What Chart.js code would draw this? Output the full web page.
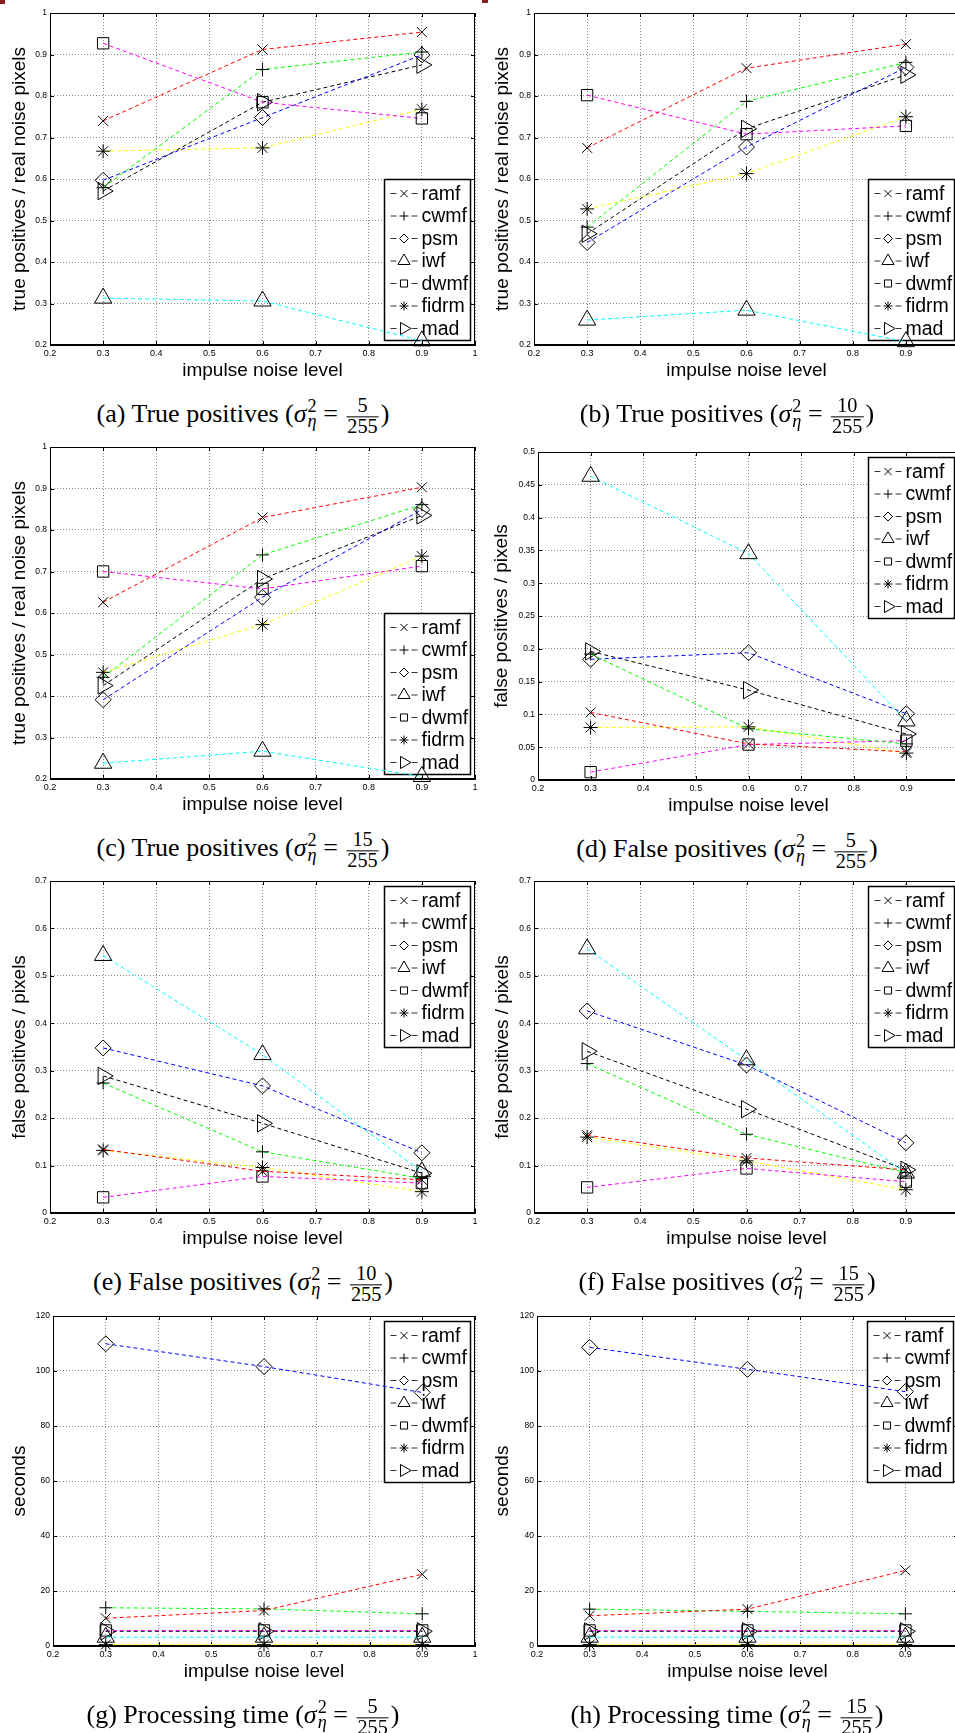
<!DOCTYPE html>
<html>
<head>
<meta charset="utf-8">
<script src="https://cdn.jsdelivr.net/npm/chart.js@4.4.1/dist/chart.umd.min.js"></script>
<style>
    html, body { margin: 0; padding: 0; background: #fff; }
    body { width: 955px; height: 1733px; position: relative; overflow: hidden; }
    canvas { position: absolute; }
    .cap { position: absolute; transform: translate(-50%, -50%); font: 26px "Liberation Serif", "Times New Roman", serif; white-space: nowrap; color: #000; }
    .ss { display: inline-block; vertical-align: -5px; font-size: 0.7em; line-height: 0.78; margin-left: 1px; }
    .ss span { display: block; }
    .frac { display: inline-block; vertical-align: middle; text-align: center; font-size: 0.78em; line-height: 0.92; margin: 0 2px; }
    .frac span { display: block; padding: 0 1px; }
    .frac span:first-child { border-bottom: 1px solid #000; padding-bottom: 1px; }
    .mark { position: absolute; background: #8b1c1c; }
</style>
</head>
<body>
<div class="mark" style="left:0;top:0;width:5px;height:4px"></div>
<div class="mark" style="left:482px;top:0;width:6px;height:3px"></div>
<script>
// x values and series names
const noiseLevels = [0.3, 0.6, 0.9];
const methods = ['ramf', 'cwmf', 'psm', 'iwf', 'dwmf', 'fidrm', 'mad'];

// tick labels
const xTicks = [0.2, 0.3, 0.4, 0.5, 0.6, 0.7, 0.8, 0.9, 1];
const tpTicks = [0.2, 0.3, 0.4, 0.5, 0.6, 0.7, 0.8, 0.9, 1];
const fpTicksLow = [0, 0.05, 0.1, 0.15, 0.2, 0.25, 0.3, 0.35, 0.4, 0.45, 0.5];
const fpTicks = [0, 0.1, 0.2, 0.3, 0.4, 0.5, 0.6, 0.7];
const timeTicks = [0, 20, 40, 60, 80, 100, 120];

// values, one row per method (ramf, cwmf, psm, iwf, dwmf, fidrm, mad)
const tp5 = [
    [0.740, 0.912, 0.954],
    [0.579, 0.864, 0.906],
    [0.597, 0.748, 0.899],
    [0.313, 0.306, 0.210],
    [0.927, 0.785, 0.746],
    [0.667, 0.675, 0.768],
    [0.571, 0.785, 0.875]
];
const tp10 = [
    [0.675, 0.867, 0.925],
    [0.484, 0.787, 0.881],
    [0.447, 0.677, 0.869],
    [0.260, 0.284, 0.208],
    [0.802, 0.708, 0.728],
    [0.528, 0.613, 0.750],
    [0.468, 0.721, 0.851]
];
const tp15 = [
    [0.626, 0.830, 0.903],
    [0.445, 0.740, 0.861],
    [0.391, 0.638, 0.849],
    [0.238, 0.267, 0.206],
    [0.700, 0.658, 0.713],
    [0.457, 0.572, 0.737],
    [0.425, 0.682, 0.835]
];
const fp5 = [
    [0.103, 0.055, 0.043],
    [0.192, 0.078, 0.055],
    [0.184, 0.194, 0.101],
    [0.463, 0.345, 0.090],
    [0.012, 0.054, 0.060],
    [0.080, 0.081, 0.041],
    [0.196, 0.137, 0.070]
];
const fp10 = [
    [0.134, 0.088, 0.070],
    [0.274, 0.129, 0.073],
    [0.348, 0.268, 0.127],
    [0.543, 0.334, 0.087],
    [0.033, 0.077, 0.063],
    [0.132, 0.096, 0.045],
    [0.289, 0.189, 0.084]
];
const fp15 = [
    [0.164, 0.116, 0.091],
    [0.315, 0.166, 0.085],
    [0.426, 0.312, 0.148],
    [0.557, 0.323, 0.084],
    [0.054, 0.094, 0.066],
    [0.160, 0.110, 0.049],
    [0.341, 0.219, 0.091]
];
const time5 = [
    [10.1, 12.9, 26.1],
    [13.9, 13.5, 11.7],
    [109.9, 101.6, 92.2],
    [3.2, 3.2, 3.2],
    [5.65, 5.65, 5.65],
    [0.5, 0.5, 0.5],
    [5.35, 5.35, 5.35]
];
const time15 = [
    [11.0, 13.4, 27.5],
    [13.4, 12.6, 11.7],
    [108.6, 100.6, 92.5],
    [3.2, 3.2, 3.2],
    [5.65, 5.65, 5.65],
    [0.5, 0.5, 0.5],
    [5.35, 5.35, 5.35]
];

// styles
const lineColors = ['#ff0000', '#00ff00', '#0000ff', '#00ffff', '#ff00ff', '#ffff00', '#000000'];
const markers = ['crossRot', 'cross', 'rectRot', 'triangle', 'rect', 'star', 'triangle'];
const markerRotation = [0, 0, 0, 0, 0, 0, 90];
const markerRadius = [7, 6.5, 8, 10, 8, 7, 10];
const legendRadius = [5, 4.5, 4.5, 7, 5, 4.5, 7];

const SANS = '"Liberation Sans", Arial, Helvetica, sans-serif';
const yTp = 'true positives / real noise pixels';
const yFp = 'false positives / pixels';
const yTime = 'seconds';

// box = plot area [left, top, right, bottom], off = y title centre distance from axis
const panels = [
    { data: tp5, ticks: tpTicks, ylabel: yTp, legend: 'se', box: [50, 10, 476, 345], off: 30, capX: 243, cap: '(a) True positives', num: '5' },
    { data: tp10, ticks: tpTicks, ylabel: yTp, legend: 'se', box: [534, 10, 960, 345], off: 31, capX: 727, cap: '(b) True positives', num: '10' },
    { data: tp15, ticks: tpTicks, ylabel: yTp, legend: 'se', box: [50, 444, 476, 779], off: 30, capX: 243, cap: '(c) True positives', num: '15' },
    { data: fp5, ticks: fpTicksLow, ylabel: yFp, legend: 'ne', box: [538, 449, 960, 780], off: 36, capX: 727, cap: '(d) False positives', num: '5' },
    { data: fp10, ticks: fpTicks, ylabel: yFp, legend: 'ne', box: [50, 878, 476, 1213], off: 30, capX: 243, cap: '(e) False positives', num: '10' },
    { data: fp15, ticks: fpTicks, ylabel: yFp, legend: 'ne', box: [534, 878, 960, 1213], off: 31, capX: 727, cap: '(f) False positives', num: '15' },
    { data: time5, ticks: timeTicks, ylabel: yTime, legend: 'ne', box: [53, 1313, 476, 1646], off: 33, capX: 243, cap: '(g) Processing time', num: '5' },
    { data: time15, ticks: timeTicks, ylabel: yTime, legend: 'ne', box: [537, 1313, 959, 1646], off: 34, capX: 727, cap: '(h) Processing time', num: '15' }
];

const fmt = v => String(+(+v).toFixed(2));

// axes box, inward ticks and the legend (drawn under the data, like the original)
const framePlugin = {
    id: 'frame',
    beforeDatasetsDraw(chart, args, opts) {
        const { ctx, chartArea: a, scales } = chart;
        ctx.save();
        ctx.strokeStyle = '#000';
        ctx.lineWidth = 1;
        ctx.strokeRect(Math.round(a.left) + 0.5, Math.round(a.top) + 0.5, Math.round(a.right - a.left) - 1, Math.round(a.bottom - a.top) - 1);
        ctx.beginPath();
        xTicks.forEach(v => {
            const x = Math.round(scales.x.getPixelForValue(v)) + 0.5;
            ctx.moveTo(x, a.bottom); ctx.lineTo(x, a.bottom - 4);
            ctx.moveTo(x, a.top); ctx.lineTo(x, a.top + 4);
        });
        opts.yTicks.forEach(v => {
            const y = Math.round(scales.y.getPixelForValue(v)) + 0.5;
            ctx.moveTo(a.left, y); ctx.lineTo(a.left + 4, y);
            ctx.moveTo(a.right, y); ctx.lineTo(a.right - 4, y);
        });
        ctx.stroke();

        // legend box
        const w = 86, h = 161, m = 5;
        const x0 = Math.round(a.right - m - w) + 0.5;
        const y0 = Math.round(opts.corner === 'ne' ? a.top + m : a.bottom - m - h) + 0.5;
        ctx.fillStyle = '#fff';
        ctx.fillRect(x0, y0, w, h);
        ctx.lineWidth = 1.5;
        ctx.strokeRect(x0, y0, w, h);
        chart.data.datasets.forEach((ds, i) => {
            const y = y0 + 14 + i * 22.5;
            ctx.lineWidth = 1;
            ctx.strokeStyle = '#333';
            ctx.beginPath();
            ctx.moveTo(x0 + 6, y); ctx.lineTo(x0 + 12, y);
            ctx.moveTo(x0 + 27, y); ctx.lineTo(x0 + 33, y);
            ctx.stroke();
            ctx.strokeStyle = '#000';
            ctx.fillStyle = 'rgba(0,0,0,0)';
            Chart.helpers.drawPoint(ctx, {
                pointStyle: ds.pointStyle, rotation: ds.pointRotation, radius: legendRadius[i], borderWidth: 1
            }, x0 + 19.5, y);
            ctx.fillStyle = '#000';
            ctx.font = '19.5px ' + SANS;
            ctx.textBaseline = 'middle';
            ctx.textAlign = 'left';
            ctx.fillText(ds.label, x0 + 37, y + 1);
        });
        ctx.restore();
    }
};

panels.forEach(p => {
    const [l, t, r, b] = p.box;
    const padL = 50, padT = 8, padR = 10, axH = 45;
    const canvas = document.createElement('canvas');
    canvas.width = (r - l) + padL + padR;
    canvas.height = (b - t) + padT + axH;
    canvas.style.left = (l - padL) + 'px';
    canvas.style.top = (t - padT) + 'px';
    document.body.appendChild(canvas);

    new Chart(canvas.getContext('2d'), {
        type: 'line',
        data: {
            datasets: methods.map((name, i) => ({
                label: name,
                data: noiseLevels.map((x, j) => ({ x: x, y: p.data[i][j] })),
                borderColor: lineColors[i],
                borderWidth: 1,
                borderDash: [4, 3],
                pointStyle: markers[i],
                pointRotation: markerRotation[i],
                pointRadius: markerRadius[i],
                pointHoverRadius: markerRadius[i],
                pointBorderColor: '#000',
                pointBackgroundColor: 'rgba(0,0,0,0)',
                pointBorderWidth: 1,
                fill: false,
                tension: 0,
                clip: false
            }))
        },
        options: {
            responsive: false,
            animation: false,
            events: [],
            layout: { padding: { left: 0, top: padT, right: padR, bottom: 0 } },
            plugins: {
                legend: { display: false },
                tooltip: { enabled: false },
                frame: { yTicks: p.ticks, corner: p.legend }
            },
            scales: {
                x: {
                    type: 'linear',
                    min: 0.2,
                    max: 1,
                    afterBuildTicks: s => { s.ticks = xTicks.map(v => ({ value: v })); },
                    afterFit: s => { s.height = axH; },
                    ticks: { callback: fmt, color: '#000', padding: 3, maxRotation: 0, autoSkip: false, font: { family: SANS, size: 9 } },
                    grid: { color: '#8a8a8a', lineWidth: 1, drawTicks: false },
                    border: { color: '#000', width: 1, dash: [1, 2] },
                    title: { display: true, text: 'impulse noise level', color: '#000', font: { family: SANS, size: 19, lineHeight: 1 }, padding: { top: 0, bottom: 9.5 } }
                },
                y: {
                    type: 'linear',
                    min: p.ticks[0],
                    max: p.ticks[p.ticks.length - 1],
                    afterBuildTicks: s => { s.ticks = p.ticks.map(v => ({ value: v })); },
                    afterFit: s => { s.width = padL; },
                    ticks: { callback: fmt, color: '#000', padding: 3, autoSkip: false, font: { family: SANS, size: 8.5 } },
                    grid: { color: '#8a8a8a', lineWidth: 1, drawTicks: false },
                    border: { color: '#000', width: 1, dash: [1, 2] },
                    title: { display: true, text: p.ylabel, color: '#000', font: { family: SANS, size: 19, lineHeight: 1 }, padding: { top: padL - p.off - 9.5, bottom: 0 } }
                }
            }
        },
        plugins: [framePlugin]
    });

    // caption under the panel
    const cap = document.createElement('div');
    cap.className = 'cap';
    cap.style.left = p.capX + 'px';
    cap.style.top = (b + 71) + 'px';
    cap.innerHTML = p.cap + ' (<i>σ</i><span class="ss"><span>2</span><span><i>η</i></span></span> = ' +
        '<span class="frac"><span>' + p.num + '</span><span>255</span></span>)';
    document.body.appendChild(cap);
});
</script>
</body>
</html>
